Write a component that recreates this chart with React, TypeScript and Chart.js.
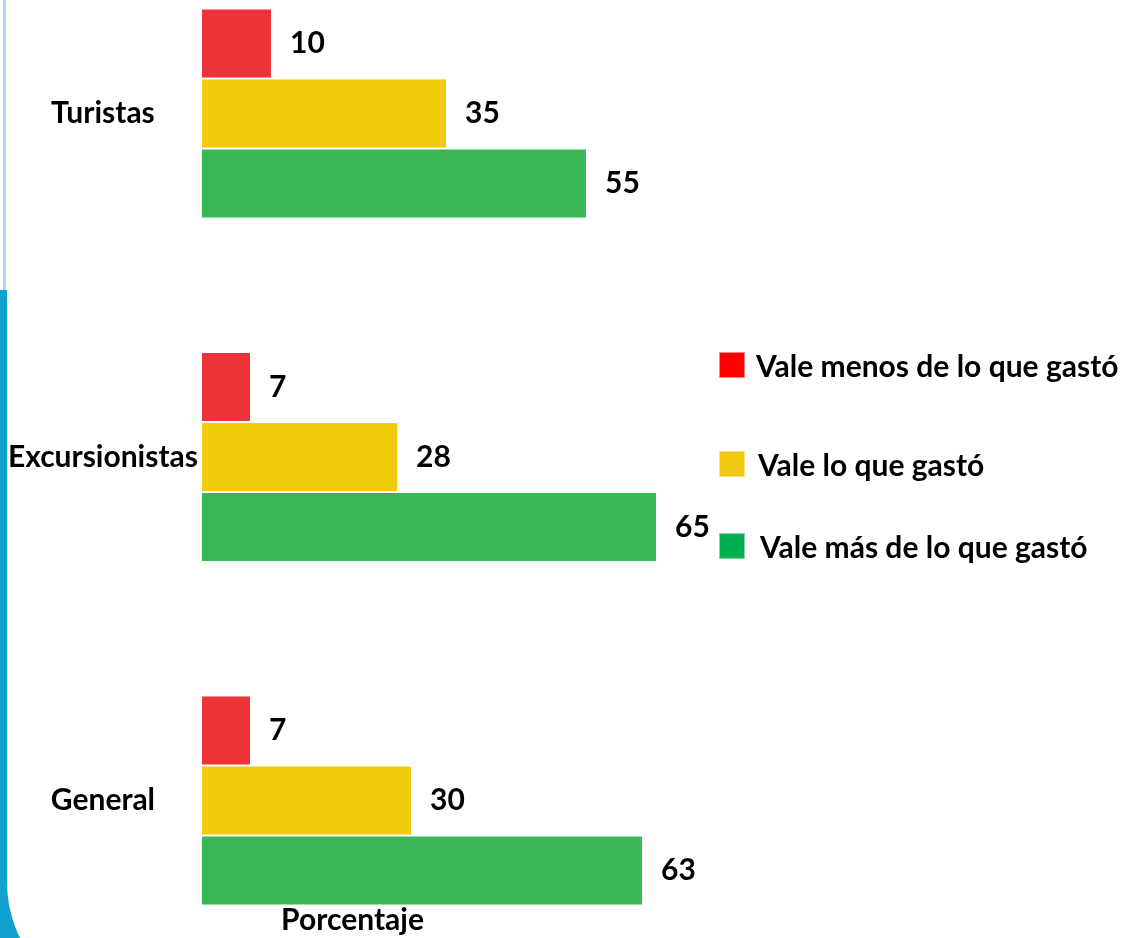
import React, { useEffect, useRef } from "react";
import { Chart, registerables } from "chart.js";

Chart.register(...registerables);

const categories = ["Turistas", "Excursionistas", "General"];
const seriesNames = [
  "Vale menos de lo que gastó",
  "Vale lo que gastó",
  "Vale más de lo que gastó",
];
const menosValues = [10, 7, 7];
const igualValues = [35, 28, 30];
const masValues = [55, 65, 63];
const axisTitle = "Porcentaje";

const barColors = ["#EE3338", "#EFCB0A", "#3AB757"];
const legendColors = ["#FF0000", "#F0C80E", "#00B050"];

const FONT = "Lato, 'Open Sans', sans-serif";
const FSIZE = 30;

const valueLabels = {
  id: "valueLabels",
  afterDatasetsDraw(chart: any) {
    const ctx = chart.ctx;
    ctx.save();
    ctx.font = `bold ${FSIZE}px ${FONT}`;
    ctx.fillStyle = "#000";
    ctx.textAlign = "left";
    ctx.textBaseline = "middle";
    chart.data.datasets.forEach((ds: any, di: number) => {
      const meta = chart.getDatasetMeta(di);
      meta.data.forEach((el: any, i: number) => {
        ctx.fillText(String(ds.data[i]), el.x + 18, el.y);
      });
    });
    ctx.restore();
  },
};

export default function App() {
  const ref = useRef<HTMLCanvasElement | null>(null);

  useEffect(() => {
    if (!ref.current) return;
    const chart = new Chart(ref.current, {
      type: "bar",
      data: {
        labels: categories,
        datasets: [menosValues, igualValues, masValues].map((d, i) => ({
          label: seriesNames[i],
          data: d,
          backgroundColor: barColors[i],
          borderColor: "rgba(255,255,255,0.55)",
          borderWidth: 1,
          barPercentage: 1,
          categoryPercentage: 0.611,
          clip: false as any,
        })),
      },
      options: {
        indexAxis: "y",
        animation: false,
        responsive: false,
        maintainAspectRatio: false,
        layout: { padding: { top: 113.5, left: 0, right: 619, bottom: 0 } },
        plugins: {
          legend: { display: false },
          tooltip: { enabled: false },
        },
        scales: {
          x: {
            min: 0,
            max: 43,
            grid: { display: false, drawTicks: false },
            border: { display: false },
            ticks: { display: false },
            title: {
              display: true,
              text: axisTitle,
              color: "#000",
              font: { family: FONT, weight: "bold", size: FSIZE },
              padding: { top: 101.5, bottom: 0 },
            },
          },
          y: {
            type: "category",
            offset: false,
            grid: { display: false, drawTicks: false },
            border: { display: false },
            ticks: {
              color: "#000",
              crossAlign: "center",
              padding: 4,
              font: { family: FONT, weight: "bold", size: FSIZE },
            },
            afterFit(scale: any) {
              scale.width = 202;
            },
          },
        },
      },
      plugins: [valueLabels],
    });
    return () => chart.destroy();
  }, []);

  const legendPos = [
    { top: 352, left: 719, gap: 11 },
    { top: 451, left: 719, gap: 13 },
    { top: 533, left: 719, gap: 15 },
  ];

  return (
    <div
      style={{
        position: "fixed",
        left: 0,
        top: 0,
        width: 1122,
        height: 938,
        overflow: "hidden",
        background: "#fff",
        fontFamily: FONT,
      }}
    >
      <div
        style={{
          position: "absolute",
          left: 3,
          top: 0,
          width: 3,
          height: 290,
          background: "#a9d9ee",
        }}
      />
      <div
        style={{
          position: "absolute",
          left: -20,
          top: 290,
          width: 600,
          height: 712,
          borderLeft: "27px solid #12A0CF",
          borderBottom: "20px solid #12A0CF",
          borderBottomLeftRadius: 140,
        }}
      />
      <canvas
        ref={ref}
        width={1122}
        height={938}
        style={{ position: "absolute", left: 0, top: 0, width: 1122, height: 938 }}
      />
      {seriesNames.map((name, i) => (
        <div
          key={name}
          style={{
            position: "absolute",
            left: legendPos[i].left,
            top: legendPos[i].top,
            display: "flex",
            alignItems: "center",
            height: 26,
            whiteSpace: "nowrap",
          }}
        >
          <div
            style={{
              width: 24,
              height: 24,
              background: legendColors[i],
              border: "1px solid rgba(255,255,255,0.5)",
            }}
          />
          <span
            style={{
              marginLeft: legendPos[i].gap,
              fontWeight: "bold",
              fontSize: FSIZE,
              color: "#000",
              lineHeight: "26px",
            }}
          >
            {name}
          </span>
        </div>
      ))}
    </div>
  );
}
